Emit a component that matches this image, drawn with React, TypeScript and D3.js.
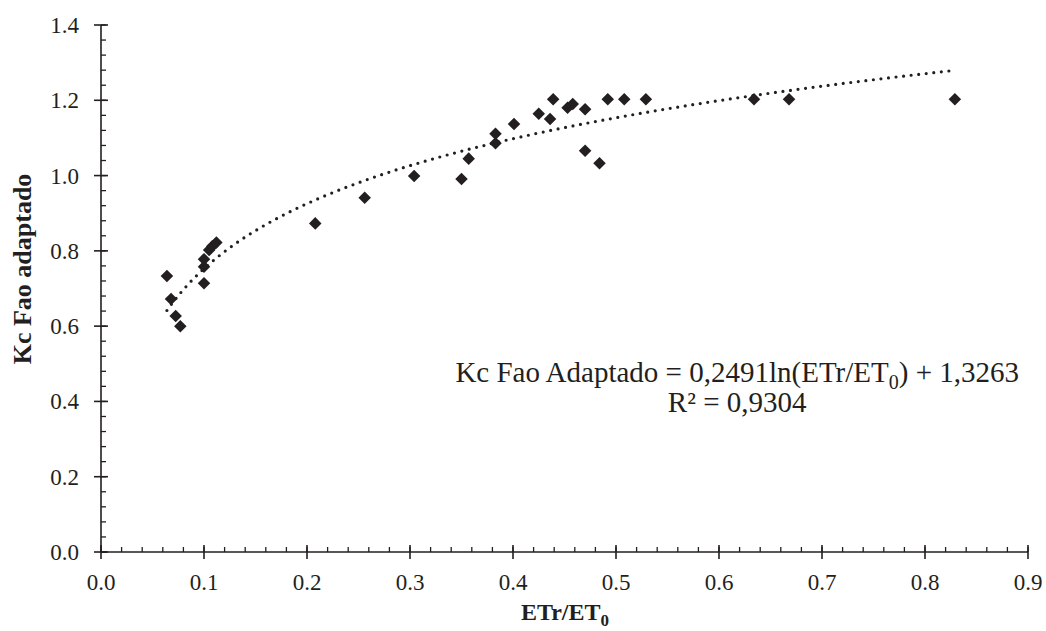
import * as d3 from "d3";
import { useEffect, useRef } from "react";

// ETr/ET0 (x) and Kc Fao adaptado (y)
const etRatio = [
  0.064, 0.068, 0.0725, 0.077, 0.1, 0.1, 0.1, 0.105, 0.108, 0.112,
  0.208, 0.256, 0.304, 0.35, 0.357, 0.383, 0.383, 0.401, 0.425, 0.436,
  0.439, 0.453, 0.458, 0.47, 0.47, 0.484, 0.492, 0.508, 0.529, 0.634,
  0.668, 0.829,
];
const kcValues = [
  0.733, 0.672, 0.627, 0.6, 0.714, 0.758, 0.778, 0.802, 0.812, 0.822,
  0.873, 0.941, 0.999, 0.991, 1.045, 1.086, 1.111, 1.137, 1.164, 1.15,
  1.203, 1.18, 1.19, 1.176, 1.066, 1.033, 1.203, 1.203, 1.203, 1.203,
  1.203, 1.203,
];
const xTicks = [0, 0.1, 0.2, 0.3, 0.4, 0.5, 0.6, 0.7, 0.8, 0.9];
const yTicks = [0, 0.2, 0.4, 0.6, 0.8, 1.0, 1.2, 1.4];

// log fit shown on the chart
const fitA = 0.2491;
const fitB = 1.3263;
const fitR2 = "0,9304";

const W = 1046;
const H = 631;
const ink = "#231f20";
const font = "'Liberation Serif', 'Times New Roman', serif";

export default function App() {
  const svgRef = useRef<SVGSVGElement>(null);

  useEffect(() => {
    const svg = d3.select(svgRef.current).attr("width", W).attr("height", H);
    svg.selectAll("*").remove();

    const x = d3.scaleLinear().domain([0, 0.9]).range([101, 1028]);
    const y = d3.scaleLinear().domain([0, 1.4]).range([552, 25]);

    // minor ticks
    const xMinor = d3.range(0, 0.9001, 0.02);
    const yMinor = d3.range(0, 1.4001, 0.04);
    svg.append("g").selectAll("line").data(xMinor).enter().append("line")
      .attr("x1", d => x(d)).attr("x2", d => x(d))
      .attr("y1", y(0)).attr("y2", y(0) - 5)
      .attr("stroke", ink).attr("stroke-width", 1.3);
    svg.append("g").selectAll("line").data(yMinor).enter().append("line")
      .attr("x1", x(0)).attr("x2", x(0) + 5)
      .attr("y1", d => y(d)).attr("y2", d => y(d))
      .attr("stroke", ink).attr("stroke-width", 1.3);

    // major ticks (crossing)
    svg.append("g").selectAll("line").data(xTicks).enter().append("line")
      .attr("x1", d => x(d)).attr("x2", d => x(d))
      .attr("y1", y(0) - 7).attr("y2", y(0) + 7)
      .attr("stroke", ink).attr("stroke-width", 1.6);
    svg.append("g").selectAll("line").data(yTicks).enter().append("line")
      .attr("x1", x(0) - 7).attr("x2", x(0) + 7)
      .attr("y1", d => y(d)).attr("y2", d => y(d))
      .attr("stroke", ink).attr("stroke-width", 1.6);

    // axis lines
    svg.append("line")
      .attr("x1", x(0)).attr("x2", x(0.9)).attr("y1", y(0)).attr("y2", y(0))
      .attr("stroke", ink).attr("stroke-width", 1.6);
    svg.append("line")
      .attr("x1", x(0)).attr("x2", x(0)).attr("y1", y(0)).attr("y2", y(1.4))
      .attr("stroke", ink).attr("stroke-width", 1.6);

    const fmt = d3.format(".1f");
    svg.append("g").selectAll("text").data(xTicks).enter().append("text")
      .attr("x", d => x(d)).attr("y", 590)
      .attr("text-anchor", "middle")
      .attr("font-family", font).attr("font-size", 23).attr("fill", ink)
      .text(d => fmt(d));
    svg.append("g").selectAll("text").data(yTicks).enter().append("text")
      .attr("x", 79).attr("y", d => y(d) + 8)
      .attr("text-anchor", "end")
      .attr("font-family", font).attr("font-size", 23).attr("fill", ink)
      .text(d => fmt(d));

    // axis titles
    const xt = svg.append("text")
      .attr("x", 565).attr("y", 620)
      .attr("text-anchor", "middle")
      .attr("font-family", font).attr("font-size", 24).attr("font-weight", "bold")
      .attr("fill", ink);
    xt.append("tspan").text("ETr/ET");
    xt.append("tspan").attr("dy", 6).attr("font-size", 17).text("0");

    svg.append("text")
      .attr("transform", "translate(31,269) rotate(-90)")
      .attr("text-anchor", "middle")
      .attr("font-family", font).attr("font-size", 26).attr("font-weight", "bold")
      .attr("fill", ink)
      .text("Kc Fao adaptado");

    // trend line (dotted)
    const [xMin, xMax] = d3.extent(etRatio) as [number, number];
    const fitPts = d3.range(0, 201).map(i => {
      const v = xMin + (xMax - xMin) * i / 200;
      return [v, fitA * Math.log(v) + fitB] as [number, number];
    });
    const line = d3.line<[number, number]>().x(d => x(d[0])).y(d => y(d[1]));
    svg.append("path")
      .attr("d", line(fitPts))
      .attr("fill", "none")
      .attr("stroke", ink).attr("stroke-width", 3.2)
      .attr("stroke-linecap", "round")
      .attr("stroke-dasharray", "0 7.6");

    // points
    const diamond = d3.symbol().type(d3.symbolDiamond2).size(100);
    svg.append("g").selectAll("path").data(etRatio).enter().append("path")
      .attr("d", diamond)
      .attr("transform", (d, i) => `translate(${x(d)},${y(kcValues[i])})`)
      .attr("fill", ink);

    // equation
    const eq = svg.append("text")
      .attr("x", 1019).attr("y", 382)
      .attr("text-anchor", "end")
      .attr("font-family", font).attr("font-size", 29).attr("fill", ink);
    eq.append("tspan").text(`Kc Fao Adaptado = ${String(fitA).replace(".", ",")}ln(ETr/ET`);
    eq.append("tspan").attr("dy", 7).attr("font-size", 20).text("0");
    eq.append("tspan").attr("dy", -7).text(`) + ${String(fitB).replace(".", ",")}`);

    const box = (eq.node() as SVGTextElement).getBBox();
    svg.append("text")
      .attr("x", box.x + box.width / 2).attr("y", 412)
      .attr("text-anchor", "middle")
      .attr("font-family", font).attr("font-size", 29).attr("fill", ink)
      .text(`R² = ${fitR2}`);
  });

  return (
    <div style={{ position: "absolute", left: 0, top: 0 }}>
      <svg ref={svgRef} style={{ display: "block" }} />
    </div>
  );
}
